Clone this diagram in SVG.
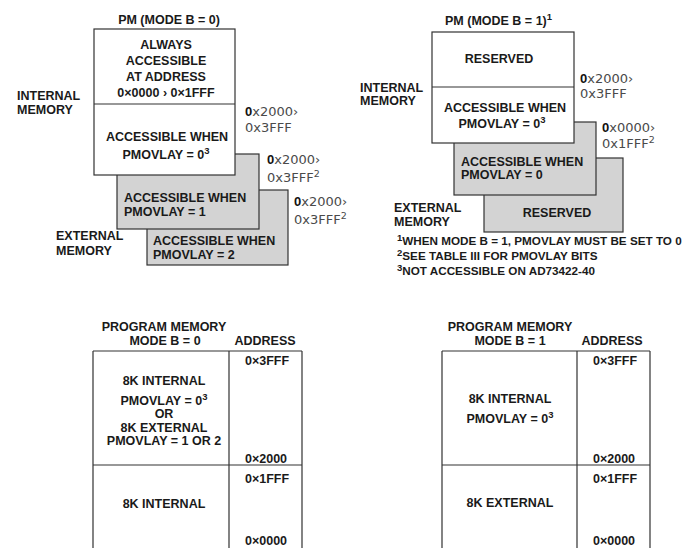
<svg xmlns="http://www.w3.org/2000/svg" width="689" height="548" viewBox="0 0 689 548">
<style>
.b{font-family:"Liberation Sans",Arial,sans-serif;font-weight:bold;font-size:12.5px;fill:#1a1a1a}
.m{text-anchor:middle}
.fn{font-size:11.7px}
.a{font-family:"DejaVu Sans",sans-serif;font-size:13px;fill:#4a4a4a}
.a0{font-family:"Liberation Sans",Arial,sans-serif;font-weight:bold;fill:#111}
.g{fill:#d3d3d3;stroke:#333;stroke-width:1.2}
.w{fill:#fff;stroke:#333;stroke-width:1.2}
.ln{stroke:#333;stroke-width:1.2;fill:none}
.sup{font-size:9.5px}
</style>
<rect width="689" height="548" fill="#fff"/>

<!-- Top-left: PM (MODE B = 0) -->
<g id="pm-mode0">
  <text class="b m" x="169" y="24">PM (MODE B = 0)</text>
  <g id="tl-ext2"><rect class="g" x="147" y="190" width="141" height="75"/>
    <text class="b" x="153" y="245">ACCESSIBLE WHEN</text>
    <text class="b" x="153" y="259">PMOVLAY = 2</text></g>
  <g id="tl-ext1"><rect class="g" x="117" y="154" width="142" height="75"/>
    <text class="b" x="124" y="202">ACCESSIBLE WHEN</text>
    <text class="b" x="124" y="216">PMOVLAY = 1</text></g>
  <g id="tl-int"><rect class="w" x="94" y="29" width="141" height="146"/>
    <line class="ln" x1="94" y1="104" x2="235" y2="104"/>
    <text class="b m" x="166" y="49">ALWAYS</text>
    <text class="b m" x="166" y="65">ACCESSIBLE</text>
    <text class="b m" x="166" y="81">AT ADDRESS</text>
    <text class="b m" x="166" y="97">0×0000 › 0×1FFF</text>
    <text class="b m" x="167" y="141">ACCESSIBLE WHEN</text>
    <text class="b m" x="166" y="159">PMOVLAY = 0<tspan class="sup" dy="-5">3</tspan></text></g>
  <text class="b" x="17" y="100">INTERNAL</text>
  <text class="b" x="17" y="114">MEMORY</text>
  <text class="b" x="56" y="240">EXTERNAL</text>
  <text class="b" x="56" y="255">MEMORY</text>
  <text class="a" x="245" y="116"><tspan class="a0">0</tspan>x2000›</text>
  <text class="a" x="245" y="132">0x3FFF</text>
  <text class="a" x="267" y="164"><tspan class="a0">0</tspan>x2000›</text>
  <text class="a" x="267" y="182">0x3FFF<tspan class="sup" dy="-5">2</tspan></text>
  <text class="a" x="294" y="206"><tspan class="a0">0</tspan>x2000›</text>
  <text class="a" x="294" y="224">0x3FFF<tspan class="sup" dy="-5">2</tspan></text>
</g>

<!-- Top-right: PM (MODE B = 1) -->
<g id="pm-mode1">
  <text class="b" x="445" y="25">PM (MODE B = 1)<tspan class="sup" dy="-5">1</tspan></text>
  <g id="tr-ext2"><rect class="g" x="484" y="158" width="139" height="74"/>
    <text class="b m" x="557" y="217">RESERVED</text></g>
  <g id="tr-ext1"><rect class="g" x="454" y="122" width="142" height="73"/>
    <text class="b" x="461" y="166">ACCESSIBLE WHEN</text>
    <text class="b" x="461" y="179">PMOVLAY = 0</text></g>
  <g id="tr-int"><rect class="w" x="432" y="32" width="142" height="111"/>
    <line class="ln" x1="432" y1="87" x2="574" y2="87"/>
    <text class="b m" x="499" y="63">RESERVED</text>
    <text class="b m" x="505" y="112">ACCESSIBLE WHEN</text>
    <text class="b m" x="502" y="128">PMOVLAY = 0<tspan class="sup" dy="-5">3</tspan></text></g>
  <text class="b" x="360" y="92">INTERNAL</text>
  <text class="b" x="360" y="105">MEMORY</text>
  <text class="b" x="394" y="212">EXTERNAL</text>
  <text class="b" x="394" y="226">MEMORY</text>
  <text class="a" x="580" y="83"><tspan class="a0">0</tspan>x2000›</text>
  <text class="a" x="580" y="98">0x3FFF</text>
  <text class="a" x="602" y="132"><tspan class="a0">0</tspan>x0000›</text>
  <text class="a" x="602" y="148">0x1FFF<tspan class="sup" dy="-5">2</tspan></text>
  <g id="footnotes">
    <text class="b fn" x="397" y="245"><tspan class="sup" dy="-4">1</tspan><tspan dy="4">WHEN MODE B = 1, PMOVLAY MUST BE SET TO 0</tspan></text>
    <text class="b fn" x="397" y="260"><tspan class="sup" dy="-4">2</tspan><tspan dy="4">SEE TABLE III FOR PMOVLAY BITS</tspan></text>
    <text class="b fn" x="397" y="275"><tspan class="sup" dy="-4">3</tspan><tspan dy="4">NOT ACCESSIBLE ON AD73422-40</tspan></text>
  </g>
</g>

<!-- Bottom-left table -->
<g id="table-mode0">
  <text class="b m" x="164" y="331">PROGRAM MEMORY</text>
  <text class="b m" x="165" y="345">MODE B = 0</text>
  <text class="b m" x="265" y="345">ADDRESS</text>
  <path class="ln" d="M93,351 H302 M93,351 V548 M229,351 V548 M302,351 V548 M93,465 H302"/>
  <text class="b" x="245" y="365">0×3FFF</text>
  <text class="b" x="245" y="463">0×2000</text>
  <text class="b" x="245" y="483">0×1FFF</text>
  <text class="b" x="245" y="545">0×0000</text>
  <text class="b m" x="164" y="385">8K INTERNAL</text>
  <text class="b m" x="164" y="405">PMOVLAY = 0<tspan class="sup" dy="-5">3</tspan></text>
  <text class="b m" x="164" y="418">OR</text>
  <text class="b m" x="164" y="432">8K EXTERNAL</text>
  <text class="b m" x="164" y="445">PMOVLAY = 1 OR 2</text>
  <text class="b m" x="164" y="508">8K INTERNAL</text>
</g>

<!-- Bottom-right table -->
<g id="table-mode1">
  <text class="b m" x="510" y="331">PROGRAM MEMORY</text>
  <text class="b m" x="510" y="345">MODE B = 1</text>
  <text class="b m" x="612" y="345">ADDRESS</text>
  <path class="ln" d="M442,351 H650 M442,351 V548 M577,351 V548 M650,351 V548 M442,465 H650"/>
  <text class="b" x="593" y="365">0×3FFF</text>
  <text class="b" x="593" y="463">0×2000</text>
  <text class="b" x="593" y="483">0×1FFF</text>
  <text class="b" x="593" y="545">0×0000</text>
  <text class="b m" x="510" y="403">8K INTERNAL</text>
  <text class="b m" x="510" y="423">PMOVLAY = 0<tspan class="sup" dy="-5">3</tspan></text>
  <text class="b m" x="510" y="507">8K EXTERNAL</text>
</g>
</svg>
